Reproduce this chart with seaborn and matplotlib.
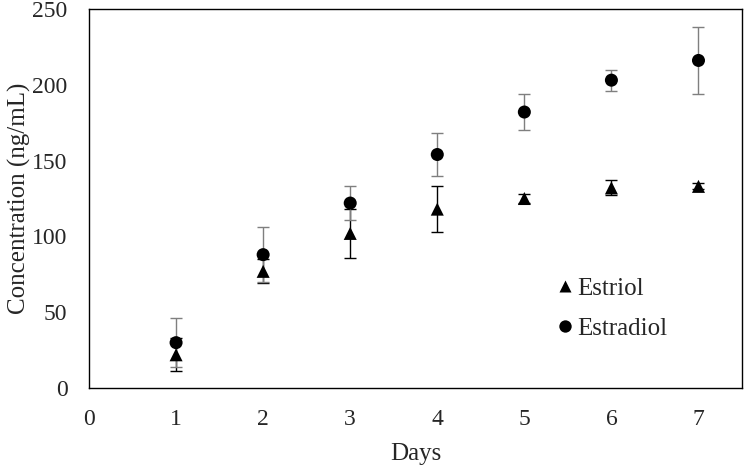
import pandas as pd
import matplotlib.pyplot as plt
import seaborn as sns

# data
days = [1, 2, 3, 4, 5, 6, 7]
estriol = [22, 77, 102, 118, 125, 132, 133]
estriol_err = [11, 8, 16, 15, 3, 5, 2]
estradiol = [30, 88, 122, 154, 182, 203, 216]
estradiol_err = [16, 18, 11, 14, 12, 7, 22]
y_ticks = [0, 50, 100, 150, 200, 250]
x_ticks = [0, 1, 2, 3, 4, 5, 6, 7]

df = pd.DataFrame({
    'Days': days * 2,
    'conc': estriol + estradiol,
    'compound': ['Estriol'] * len(days) + ['Estradiol'] * len(days),
})

sns.set_style('white')
plt.rcParams['font.family'] = ['Liberation Serif', 'DejaVu Serif']
plt.rcParams['font.size'] = 18

fig, ax = plt.subplots(figsize=(7.48, 4.66), dpi=100)
fig.subplots_adjust(left=0.119, right=0.992, top=0.981, bottom=0.167)

# error bars first so markers sit on top
ax.errorbar(days, estriol, yerr=estriol_err, fmt='none', ecolor='black',
            elinewidth=1, capsize=4.5, capthick=1, zorder=1)
ax.errorbar(days, estradiol, yerr=estradiol_err, fmt='none', ecolor='#7f7f7f',
            elinewidth=1, capsize=4.5, capthick=1, zorder=1)

sns.scatterplot(data=df, x='Days', y='conc', style='compound',
                markers={'Estriol': '^', 'Estradiol': 'o'},
                color='black', s=88, edgecolor='none', ax=ax, zorder=3)

ax.set_xlim(0, 7.5)
ax.set_ylim(0, 250)
ax.set_xticks(x_ticks)
ax.set_yticks(y_ticks)
ax.tick_params(axis='x', length=0, labelsize=17, pad=15)
ax.tick_params(axis='y', length=0, labelsize=17, pad=15.5)
ax.set_xlabel('Days', fontsize=18, labelpad=9)
ax.set_ylabel('Concentration (ng/mL)', fontsize=18, labelpad=1)
for sp in ax.spines.values():
    sp.set_visible(True)
    sp.set_color('black')
    sp.set_linewidth(1)

ax.legend(frameon=False, loc='upper left', bbox_to_anchor=(0.694, 0.318),
          handletextpad=0.0, labelspacing=0.7, handlelength=1.0,
          markerscale=0.95, fontsize=18, borderaxespad=0)

plt.savefig('out.png', dpi=100)
plt.close()
